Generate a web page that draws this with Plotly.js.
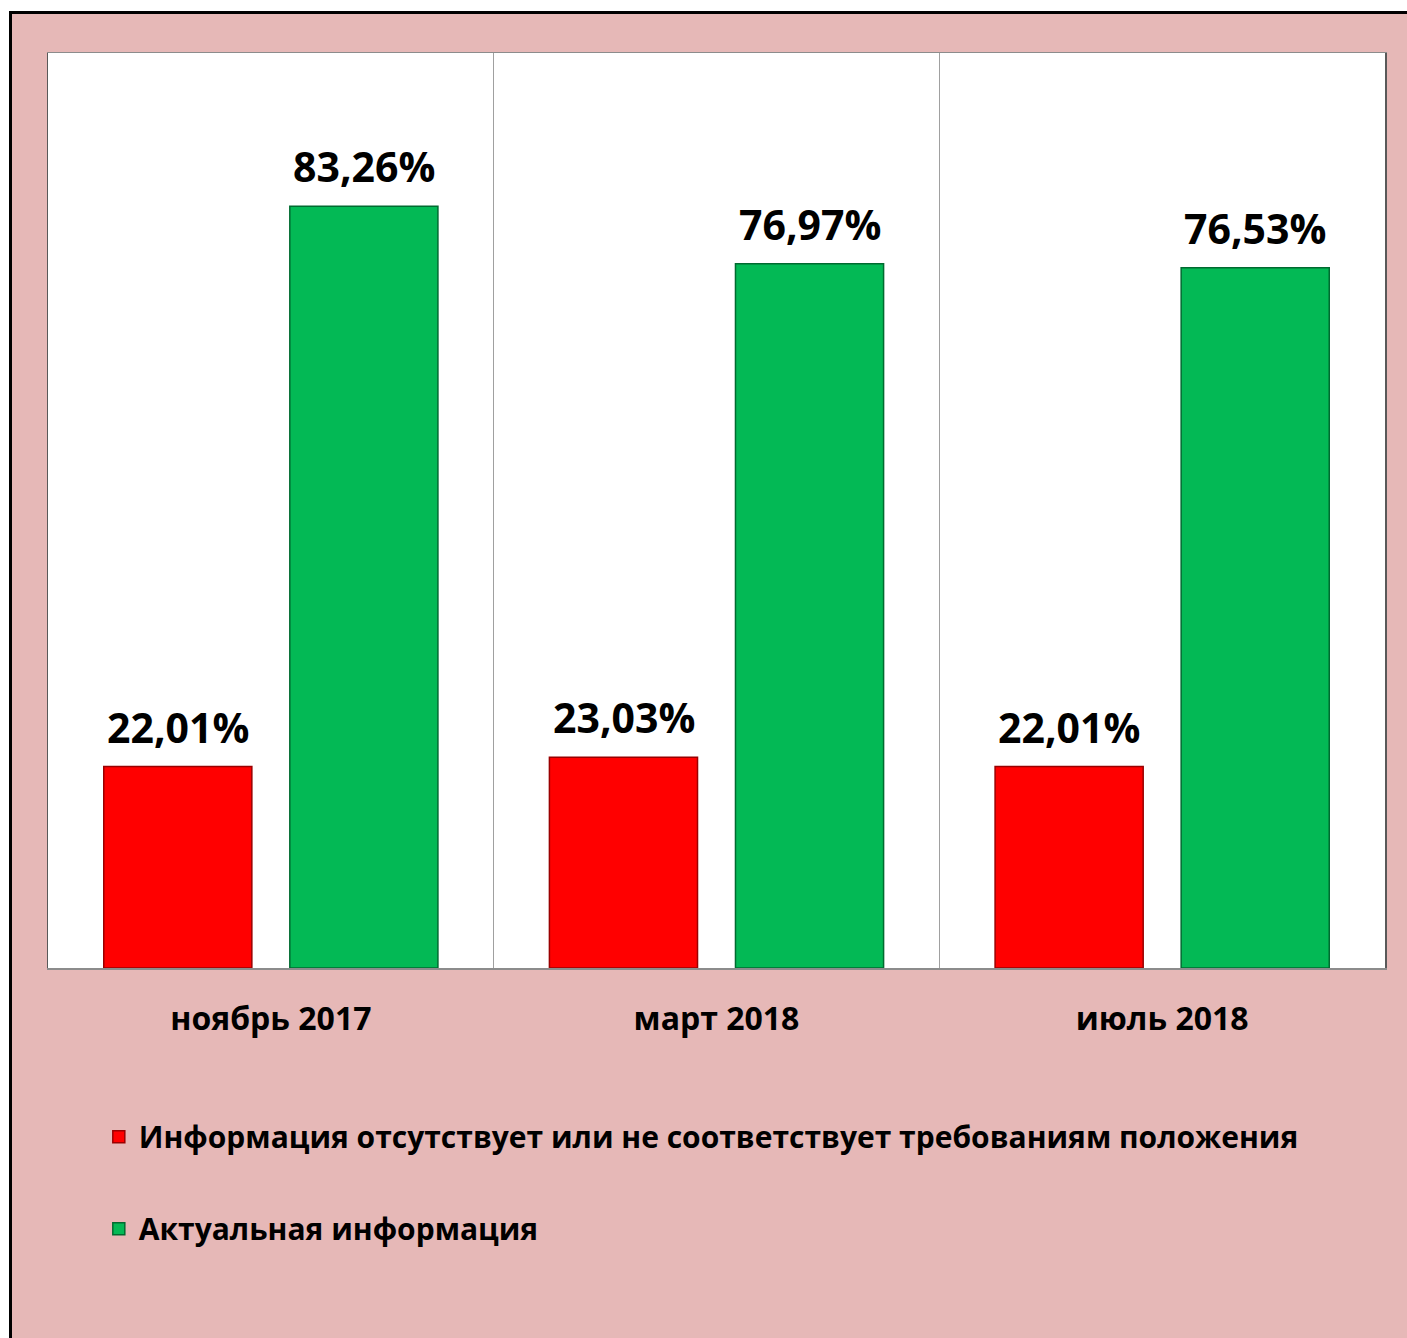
<!DOCTYPE html>
<html>
<head>
<meta charset="utf-8">
<script src="https://cdn.plot.ly/plotly-3.0.1.min.js"></script>
<style>
  html, body { margin: 0; padding: 0; background: #ffffff; }
  #wrap { position: absolute; left: 9px; top: 11px; border-left: 3px solid #000; border-top: 3px solid #000; }
  #chart { width: 1395px; height: 1324px; }
</style>
</head>
<body>
<div id="wrap"><div id="chart"></div></div>
<script>
const categories = ["ноябрь 2017", "март 2018", "июль 2018"];
const seriesNames = ["Информация отсутствует или не соответствует требованиям положения", "Актуальная информация"];
const missingInfo = [22.01, 23.03, 22.01];
const actualInfo = [83.26, 76.97, 76.53];

const colors = ["#FF0000", "#03B955"];
const lineColors = ["#9a0000", "#006b30"];
const seriesValues = [missingInfo, actualInfo];

const traces = seriesValues.map((vals, s) => ({
  type: "bar",
  name: seriesNames[s],
  x: categories,
  y: vals,
  legendgroup: "g" + s,
  marker: { color: colors[s], line: { color: lineColors[s], width: 1.5 } },
  hoverinfo: "skip"
}));

const fmt = v => v.toFixed(2).replace(".", ",") + "%";
const annotations = [];
seriesValues.forEach((vals, s) => {
  vals.forEach((v, i) => {
    annotations.push({
      x: categories[i], y: v, xref: "x", yref: "y",
      text: fmt(v), showarrow: false,
      xshift: s === 0 ? -93 : 93, yshift: 10,
      yanchor: "bottom", xanchor: "center",
      font: { family: "Open Sans", size: 41, color: "#000", weight: "bold" }
    });
  });
});

const layout = {
  width: 1395, height: 1324,
  paper_bgcolor: "#E6B8B7",
  plot_bgcolor: "#FFFFFF",
  margin: { l: 36, r: 22, t: 39, b: 370 },
  barmode: "group",
  bargap: 0.165,
  bargroupgap: 0.204,
  separators: ", ",
  showlegend: true,
  legend: {
    orientation: "v",
    x: 0.038, xanchor: "left",
    y: -0.156, yanchor: "top",
    bgcolor: "rgba(0,0,0,0)",
    tracegroupgap: 50,
    font: { family: "Open Sans", size: 30, color: "#000", weight: "bold" }
  },
  xaxis: {
    type: "category",
    tickson: "boundaries",
    showgrid: true, gridcolor: "#A0A0A0", gridwidth: 1,
    showline: true, linecolor: "#8c8c8c", linewidth: 1.5, mirror: true,
    ticks: "outside", ticklen: 5, tickcolor: "rgba(0,0,0,0)",
    ticklabelstandoff: 22,
    tickfont: { family: "Open Sans", size: 32, color: "#000", weight: "bold" },
    fixedrange: true
  },
  yaxis: {
    range: [0, 100],
    showgrid: false, zeroline: false,
    showticklabels: false, ticks: "",
    showline: true, linecolor: "#595959", linewidth: 1.5, mirror: true,
    fixedrange: true
  },
  annotations: annotations
};

Plotly.newPlot("chart", traces, layout, { displayModeBar: false, staticPlot: true });
</script>
</body>
</html>
